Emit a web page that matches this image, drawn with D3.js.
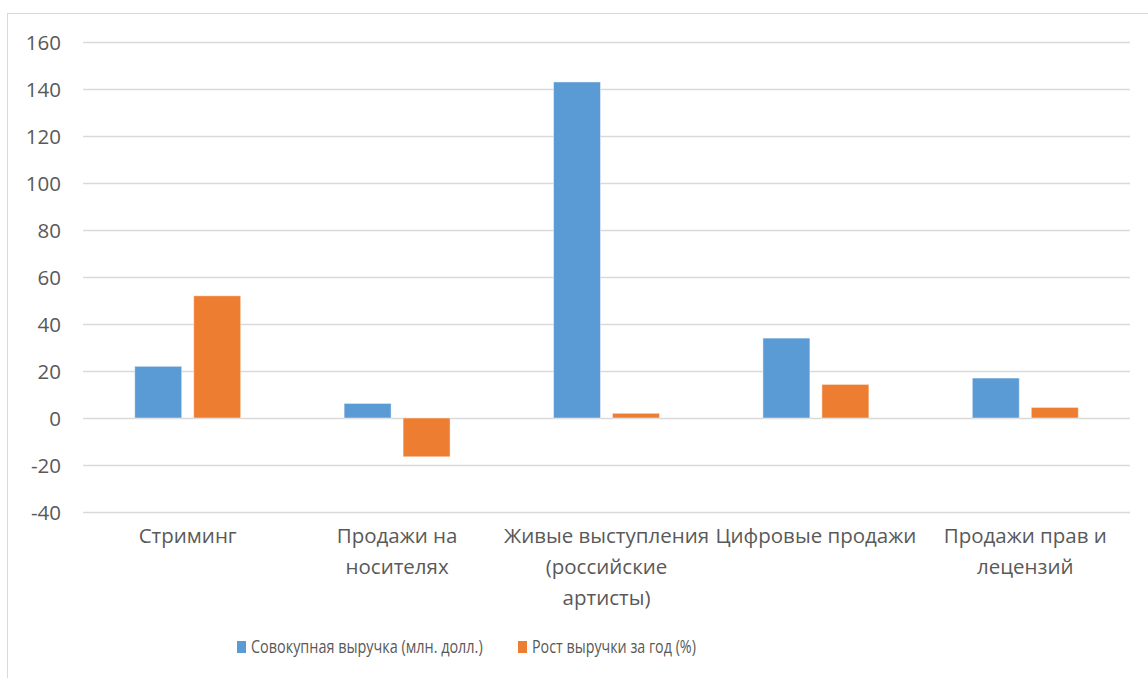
<!DOCTYPE html>
<html>
<head>
<meta charset="utf-8">
<script src="https://cdn.jsdelivr.net/npm/d3@7"></script>
<style>
  html, body { margin: 0; padding: 0; background: #ffffff; }
  svg { display: block; }
  text { font-family: "Open Sans", "Noto Sans", sans-serif; fill: #595959; }
</style>
</head>
<body>
<svg id="chart" width="1148" height="678"></svg>
<script>
// Categories (line breaks as they wrap under the axis)
const categories = [
  ["Стриминг"],
  ["Продажи на", "носителях"],
  ["Живые выступления", "(российские", "артисты)"],
  ["Цифровые продажи"],
  ["Продажи прав и", "лецензий"]
];
const seriesNames = ["Совокупная выручка (млн. долл.)", "Рост выручки за год (%)"];
const revenue = [22, 6.2, 143, 34, 17];
const growth = [52, -16.5, 2, 14.3, 4.5];
const yTicks = [-40, -20, 0, 20, 40, 60, 80, 100, 120, 140, 160];
const colors = ["#5b9bd5", "#ed7d31"];

const svg = d3.select("#chart");
const W = 1148, H = 678;
const plot = { left: 83, right: 1130, top: 42, bottom: 512 };

// Chart frame
svg.append("rect")
  .attr("x", 7.5).attr("y", 13.5)
  .attr("width", W + 10).attr("height", H + 10)
  .attr("fill", "none").attr("stroke", "#d9d9d9").attr("stroke-width", 1);

const catKeys = categories.map(c => c.join(" "));
const x = d3.scaleBand().domain(catKeys).range([plot.left, plot.right]).padding(0);
const y = d3.scaleLinear().domain([-40, 160]).range([plot.bottom, plot.top]);

// Two bars per category with a small gap between them
const groupW = x.bandwidth() * 0.506;
const x1 = d3.scaleBand().domain([0, 1])
  .range([(x.bandwidth() - groupW) / 2, (x.bandwidth() + groupW) / 2])
  .paddingInner(0.2034).paddingOuter(0);

// Gridlines
svg.append("g")
  .selectAll("line")
  .data(yTicks)
  .join("line")
  .attr("x1", plot.left).attr("x2", plot.right)
  .attr("y1", d => Math.round(y(d)) + 0.5).attr("y2", d => Math.round(y(d)) + 0.5)
  .attr("stroke", "#d9d9d9").attr("stroke-width", 1.3);

// Y axis labels (plain hyphen for negatives)
const yAxis = d3.axisLeft(y).tickValues(yTicks).tickSize(0).tickPadding(0)
  .tickFormat(d => String(d));
const gy = svg.append("g").attr("transform", "translate(61,0)").call(yAxis);
gy.select(".domain").remove();
gy.selectAll("text")
  .attr("font-size", "20.5px")
  .attr("font-family", '"Open Sans", sans-serif')
  .attr("fill", "#595959")
  .attr("dy", "0.35em");

// Bars
const rows = catKeys.map((k, i) => ({ key: k, vals: [revenue[i], growth[i]] }));
const groups = svg.append("g").selectAll("g")
  .data(rows).join("g")
  .attr("transform", d => `translate(${x(d.key)},0)`);

groups.selectAll("rect")
  .data(d => d.vals.map((v, s) => ({ v, s })))
  .join("rect")
  .attr("x", d => x1(d.s))
  .attr("width", x1.bandwidth())
  .attr("y", d => y(Math.max(0, d.v)))
  .attr("height", d => Math.abs(y(d.v) - y(0)))
  .attr("fill", d => colors[d.s])
  .attr("stroke", "#ffffff").attr("stroke-opacity", 0.45).attr("stroke-width", 1);

// Category labels
const catLabels = svg.append("g").selectAll("text")
  .data(categories).join("text")
  .attr("text-anchor", "middle")
  .attr("font-size", "20.5px")
  .attr("x", (d, i) => x(catKeys[i]) + x.bandwidth() / 2)
  .attr("y", 536);
catLabels.selectAll("tspan")
  .data(d => d).join("tspan")
  .attr("x", function () { return d3.select(this.parentNode).attr("x"); })
  .attr("dy", (d, i) => i === 0 ? "0.35em" : "31px")
  .text(d => d);

// Legend: condensed text, squeezed horizontally to its slot
const legendX = [237, 518];
const legendW = [232, 164];
const legend = svg.append("g").selectAll("g")
  .data(seriesNames).join("g")
  .attr("transform", (d, i) => `translate(${legendX[i]},641)`);
legend.append("rect")
  .attr("width", 9).attr("height", 12)
  .attr("fill", (d, i) => colors[i]);
legend.append("g")
  .attr("transform", "translate(14,6)")
  .append("text")
  .attr("dy", "0.36em")
  .attr("font-size", "17.5px")
  .text(d => d)
  .each(function (d, i) {
    const natural = this.getComputedTextLength();
    d3.select(this).attr("transform", `scale(${legendW[i] / natural},1)`);
  });
</script>
</body>
</html>
